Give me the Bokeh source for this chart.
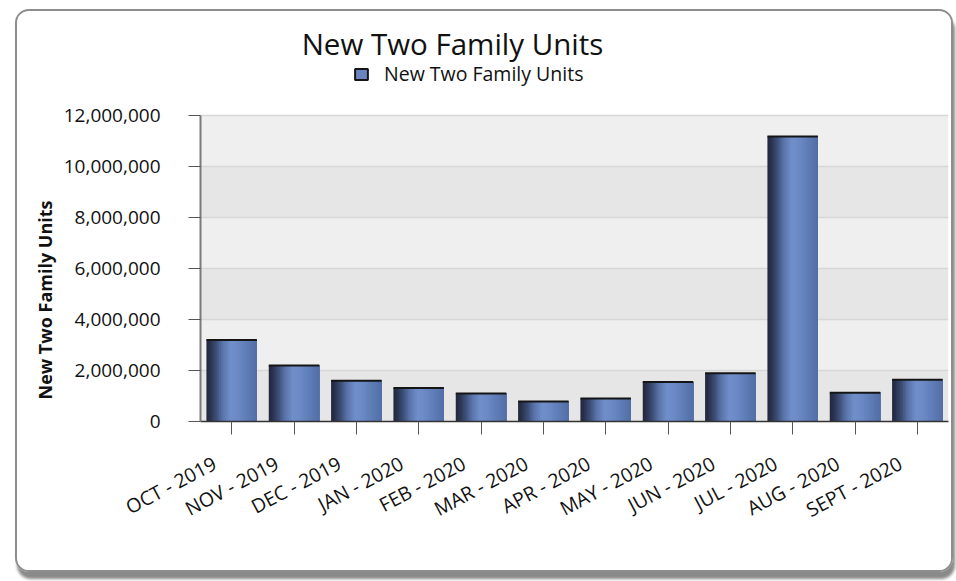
import math
from bokeh.plotting import figure
from bokeh.models import (ColumnDataSource, Range1d, NumeralTickFormatter, LinearAxis,
                          Legend, LegendItem, Title, FixedTicker, Label, BoxAnnotation)
from bokeh.transform import dodge
from bokeh.embed import file_html
from bokeh.resources import INLINE

# ---- data ----
months = ["OCT - 2019", "NOV - 2019", "DEC - 2019", "JAN - 2020", "FEB - 2020", "MAR - 2020",
          "APR - 2020", "MAY - 2020", "JUN - 2020", "JUL - 2020", "AUG - 2020", "SEPT - 2020"]
units = [3200000, 2200000, 1600000, 1310000, 1100000, 780000,
         900000, 1550000, 1890000, 11180000, 1130000, 1640000]
y_ticks = [0, 2000000, 4000000, 6000000, 8000000, 10000000, 12000000]
series_name = "New Two Family Units"
chart_title = "New Two Family Units"
y_title = "New Two Family Units"

FONT = "Open Sans"
W, H = 938, 563
FL, FR, FT, FB = 183, 7, 2, 153      # borders around the plot frame
Y_END = 16000000                     # frame extends above the axis to host title + legend
LABEL_SHIFT = -0.273                 # rotated month labels end a little left of their tick

xi = list(range(len(months)))        # category slots
src = ColumnDataSource(dict(x=xi, month=months, units=units))

p = figure(width=W, height=H, x_range=Range1d(-0.5, len(months) - 0.5),
           y_range=Range1d(0, Y_END), output_backend="svg", toolbar_location=None,
           min_border_left=FL, min_border_right=FR, min_border_top=FT, min_border_bottom=FB,
           background_fill_color="white", border_fill_color="white")
p.outline_line_color = None
p.title.visible = False
p.styles = {"margin-left": "15px", "margin-top": "9px", "border": "2px solid #8d8d8d",
            "border-radius": "14px", "overflow": "hidden",
            "box-shadow": "2px 7px 3px #8a8a8a", "box-sizing": "border-box"}

# alternating plot-area bands between the y ticks
for i, (b0, b1) in enumerate(zip(y_ticks[:-1], y_ticks[1:])):
    p.add_layout(BoxAnnotation(bottom=b0, top=b1, level="image", line_color=None,
                               fill_color="#e6e6e6" if i % 2 == 0 else "#efefef", fill_alpha=1))

p.xgrid.visible = False
p.ygrid.grid_line_color = "#d7d7d7"
p.ygrid.grid_line_width = 1.5
p.ygrid.band_fill_alpha = 0

# bar gradient drawn as nested vertical stripes
stops = [(0.0, (0x22, 0x28, 0x39)), (0.08, (0x2a, 0x33, 0x50)), (0.2, (0x3e, 0x50, 0x79)),
         (0.32, (0x5a, 0x74, 0xaa)), (0.48, (0x70, 0x8e, 0xca)), (0.6, (0x6d, 0x8b, 0xc7)),
         (0.78, (0x60, 0x7e, 0xb8)), (1.0, (0x53, 0x6e, 0xa6))]

def grad(t):
    for (t0, c0), (t1, c1) in zip(stops[:-1], stops[1:]):
        if t0 <= t <= t1:
            f = (t - t0) / (t1 - t0)
            return "#%02x%02x%02x" % tuple(int(round(a + (b - a) * f)) for a, b in zip(c0, c1))
    return "#%02x%02x%02x" % stops[-1][1]

BW = 0.81
N = 28
for k in range(N):
    left = -BW / 2 + k * BW / N
    off = (left + BW / 2) / 2
    wd = BW / 2 - left
    p.vbar(x=dodge("x", off), top="units", width=wd, source=src,
           fill_color=grad((k + 0.5) / N), line_color=None)
p.segment(x0=dodge("x", -BW / 2), x1=dodge("x", BW / 2),
          y0="units", y1="units", source=src, line_color="#151515", line_width=2)

# legend: swatch taken from a hidden renderer of the same data
proxy = p.vbar(x="x", top="units", width=BW, source=src, fill_color="#6a84bf",
               line_color="#151515", line_width=2, visible=False)
legend = Legend(items=[LegendItem(label=series_name, renderers=[proxy])],
                location=(153, 334), orientation="horizontal",
                glyph_width=16, glyph_height=14, label_standoff=15,
                padding=0, margin=0, inactive_fill_alpha=0,
                border_line_alpha=0, background_fill_alpha=0,
                label_text_font=FONT, label_text_font_size="19.5px", label_text_color="#111111")
p.add_layout(legend, "center")

# chart title
title_lbl = Label(x=252, y=378, x_units="screen", y_units="screen", text=chart_title,
                  text_align="center", text_baseline="alphabetic", text_font=FONT,
                  text_font_size="29.5px", text_color="#111111")
p.add_layout(title_lbl)

# y axis
p.yaxis.ticker = FixedTicker(ticks=y_ticks)
p.yaxis.bounds = (y_ticks[0], y_ticks[-1])
p.yaxis.formatter = NumeralTickFormatter(format="0,0")
p.yaxis.axis_line_color = "#7a7a7a"
p.yaxis.axis_line_width = 2
p.yaxis.major_tick_line_color = "#555555"
p.yaxis.major_tick_out = 12
p.yaxis.major_tick_in = 0
p.yaxis.minor_tick_line_color = None
p.yaxis.major_label_standoff = 28
p.yaxis.major_label_text_font = FONT
p.yaxis.major_label_text_font_size = "19px"
p.yaxis.major_label_text_color = "#111111"

# x axis: line + tick marks at the category centres
p.xaxis.ticker = FixedTicker(ticks=xi)
p.xaxis.major_label_overrides = {i: "" for i in xi}
p.xaxis.major_label_standoff = 0
p.xaxis.axis_line_color = "#333333"
p.xaxis.axis_line_width = 1.5
p.xaxis.major_tick_line_color = "#555555"
p.xaxis.major_tick_out = 13
p.xaxis.major_tick_in = 0
p.xaxis.minor_tick_line_color = None

# x axis: the rotated month names
lab_pos = [i + LABEL_SHIFT for i in xi]
xlab = LinearAxis(ticker=FixedTicker(ticks=lab_pos),
                  major_label_overrides=dict(zip(lab_pos, months)),
                  axis_line_color=None, major_tick_line_color=None, minor_tick_line_color=None,
                  major_tick_out=0, major_tick_in=0,
                  major_label_orientation=math.radians(28), major_label_standoff=27,
                  major_label_text_font=FONT, major_label_text_font_size="19.5px",
                  major_label_text_color="#111111")
p.add_layout(xlab, "below")

# y axis title (placed as a side title to match its vertical position)
yt = Title(text=y_title, align="left", offset=22, text_font=FONT, text_font_size="18px",
           text_font_style="bold", text_color="#111111", standoff=8)
p.add_layout(yt, "left")

open("out.html", "w").write(file_html(p, INLINE))
